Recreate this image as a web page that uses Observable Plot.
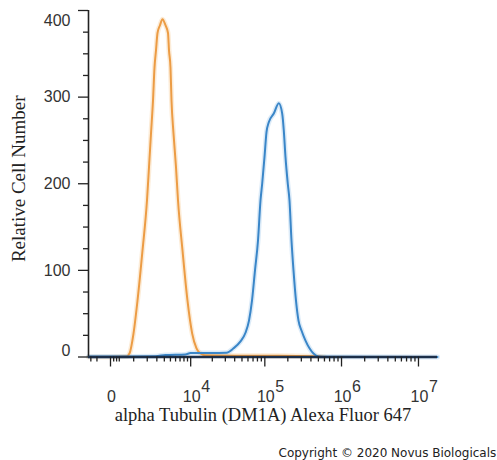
<!DOCTYPE html>
<html><head><meta charset="utf-8">
<script src="https://cdn.jsdelivr.net/npm/d3@7"></script>
<script src="https://cdn.jsdelivr.net/npm/@observablehq/plot@0.6"></script>
<style>body{margin:0;background:#fff}</style>
</head><body><div id="chart"></div>
<script>
// Isotype control (orange)
const isoFluor = [-931, 0, 614, 765, 989, 1242, 1604, 1979, 2162, 2357, 2564, 2728, 2898, 3078, 3393, 3735, 4179, 4582, 4751, 5015, 5198, 5580, 6090, 6527, 7612, 9000, 10510, 12090, 13750, 16130, 40000, 150000, 460000, 600000];
const isoCount = [0, 0, 0.5, 4, 27, 65, 123, 181, 219, 258, 296, 334, 354, 374, 383, 390, 383, 374, 354, 334, 296, 258, 219, 181, 123, 65, 27, 10, 4, 2, 1.5, 1.5, 1, 0];
// alpha Tubulin stained (blue)
const tubFluor = [-931, 0, 2841, 4179, 8419, 9940, 31100, 38580, 47790, 55660, 61910, 67820, 74280, 81350, 87740, 92370, 99000, 105200, 112700, 131100, 152400, 168800, 177100, 186400, 199700, 210200, 223200, 237100, 255500, 275500, 301400, 339900, 383100, 431800, 501600, 618700, 17660000];
const tubCount = [0.5, 0.5, 1, 2.3, 3, 4.5, 5, 10, 18, 28, 42, 65, 100, 134.5, 180.7, 200.3, 230.7, 259.6, 271, 281, 293, 281, 261.5, 230.7, 200, 180.7, 134.5, 100, 65, 42, 30.6, 19, 10, 4, 0.6, 0.3, 0];

const xDomain = [-931, 17660000];
const xMajor = [0, 1e4, 1e5, 1e6, 1e7];
const xBase = ["0", "10", "10", "10", "10"];
const xExp = ["", "4", "5", "6", "7"];
const xMinor = [-800, -500, 100, 200, 300, 1000, 2000, 3000, 4000, 5000, 6000, 7000, 8000, 9000,
  20000, 30000, 40000, 50000, 60000, 70000, 80000, 90000,
  200000, 300000, 400000, 500000, 600000, 700000, 800000, 900000,
  2000000, 3000000, 4000000, 5000000, 6000000, 7000000, 8000000, 9000000];
const yMajor = [0, 100, 200, 300, 400];
const yMinor = [25, 50, 75, 125, 150, 175, 225, 250, 275, 325, 350, 375];

const xLabel = "alpha Tubulin (DM1A) Alexa Fluor 647";
const yLabel = "Relative Cell Number";
const credit = "Copyright \u00a9 2020 Novus Biologicals";

const iso = isoFluor.map((f, i) => ({f, c: isoCount[i]}));
const tub = tubFluor.map((f, i) => ({f, c: tubCount[i]}));

const sans = "Liberation Sans, Arial, sans-serif";
const serif = "Liberation Serif, Times New Roman, serif";

const chart = Plot.plot({
  width: 497, height: 460,
  marginLeft: 88, marginRight: 60, marginTop: 10, marginBottom: 103.5,
  x: {type: "symlog", constant: 1000, domain: xDomain, axis: null},
  y: {domain: [0, 400], axis: null},
  style: {fontFamily: sans, background: "#fff"},
  marks: [
    // halos
    Plot.line(iso, {x: "f", y: "c", stroke: "#f7c98f", strokeWidth: 5, strokeOpacity: 0.35, curve: "monotone-x"}),
    Plot.line(tub, {x: "f", y: "c", stroke: "#9cc6ea", strokeWidth: 5, strokeOpacity: 0.35, curve: "monotone-x"}),
    Plot.line(iso, {x: "f", y: "c", stroke: "#ec9c45", strokeWidth: 2, curve: "monotone-x"}),
    Plot.line(tub, {x: "f", y: "c", stroke: "#3a86c8", strokeWidth: 2, curve: "monotone-x"}),
    // axes lines
    Plot.ruleX([xDomain[0]], {stroke: "#222", strokeWidth: 1.6}),
    Plot.ruleY([0], {stroke: "#1c2f4a", strokeWidth: 2.5}),
    // y ticks
    Plot.axisY(yMinor, {tickSize: 5, fill: "none", stroke: "#222", strokeWidth: 1.3, label: null}),
    Plot.axisY(yMajor, {tickSize: 10, fill: "none", stroke: "#222", strokeWidth: 1.3, label: null}),
    Plot.axisY([100, 200, 300], {tickSize: 0, tickPadding: 18, fontSize: 16, fill: "#333", label: null}),
    Plot.axisY([400], {tickSize: 0, tickPadding: 18, fontSize: 16, fill: "#333", dy: 10, label: null}),
    Plot.axisY([0], {tickSize: 0, tickPadding: 18, fontSize: 16, fill: "#333", dy: -6, label: null}),
    // x ticks
    Plot.axisX(xMinor, {anchor: "bottom", tickSize: 5, fill: "none", stroke: "#222", strokeWidth: 1.3, label: null}),
    Plot.axisX(xMajor, {anchor: "bottom", tickSize: 10, fill: "none", stroke: "#222", strokeWidth: 1.3, label: null}),
    Plot.text(xMajor, {x: d => d, y: () => 0, text: (d, i) => xBase[i], dx: 1, dy: 40, fontSize: 16, fill: "#333", fontFamily: sans}),
    Plot.text(xMajor, {x: d => d, y: () => 0, text: (d, i) => xExp[i], dx: 15, dy: 30, fontSize: 16, fill: "#333", fontFamily: sans}),
    // labels
    Plot.text([xLabel], {frameAnchor: "bottom", dy: 63.5, fontSize: 18.5, fill: "#222", fontFamily: serif}),
    Plot.text([yLabel], {frameAnchor: "left", textAnchor: "middle", rotate: -90, dx: -70, dy: -5, fontSize: 19, fill: "#222", fontFamily: serif}),
    Plot.text([credit], {frameAnchor: "bottom-left", textAnchor: "start", dx: 190, dy: 100, fontSize: 12, fill: "#222", fontFamily: "DejaVu Sans, sans-serif"})
  ]
});
document.getElementById("chart").appendChild(chart);
</script>
</body></html>
